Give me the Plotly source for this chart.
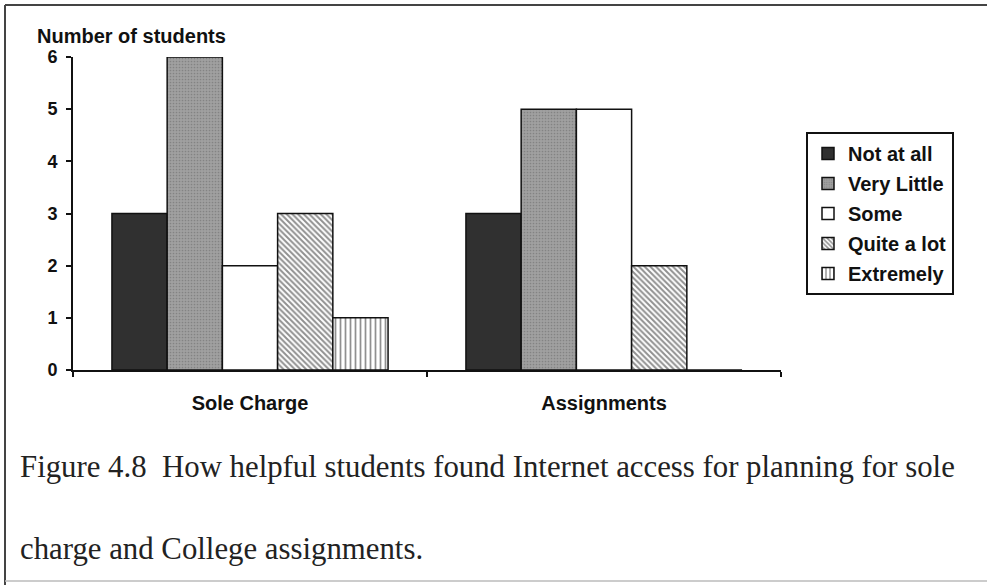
import plotly.graph_objects as go

categories = ["Sole Charge", "Assignments"]
series_names = ["Not at all", "Very Little", "Some", "Quite a lot", "Extremely"]
not_at_all = [3, 3]
very_little = [6, 5]
some = [2, 5]
quite_a_lot = [3, 2]
extremely = [1, 0]
y_ticks = [0, 1, 2, 3, 4, 5, 6]

values = [not_at_all, very_little, some, quite_a_lot, extremely]

W, H = 988, 585
L, R, T, B = 73, 781, 57, 370  # plot area in pixels
pw, ph = R - L, B - T

def px(x):
    return (x - L) / pw

def py(y):
    return (B - y) / ph

styles = [
    dict(color="#303030", pattern=dict(shape="")),
    dict(color="#999999", pattern=dict(shape=".", fgcolor="#666666", bgcolor="#a0a0a0", size=3, solidity=0.25)),
    dict(color="white", pattern=dict(shape="")),
    dict(color="white", pattern=dict(shape="\\", fgcolor="#222222", bgcolor="white", size=4, solidity=0.5)),
    dict(color="white", pattern=dict(shape="|", fgcolor="#222222", bgcolor="white", size=5, solidity=0.35)),
]

fig = go.Figure()
for i, (name, vals, st) in enumerate(zip(series_names, values, styles)):
    fig.add_trace(go.Bar(
        x=categories, y=vals, name=name,
        legendgroup=f"g{i}",
        marker=dict(color=st["color"], pattern=st["pattern"],
                    line=dict(color="#111111", width=1.5)),
    ))

fig.update_layout(
    width=W, height=H,
    margin=dict(l=L, r=W - R, t=T, b=H - B, pad=0),
    paper_bgcolor="white", plot_bgcolor="white",
    barmode="group", bargap=0.22, bargroupgap=0,
    font=dict(family="Liberation Sans, Arial", size=18, color="#111111"),
    showlegend=True,
    legend=dict(
        x=px(806), y=py(132), xanchor="left", yanchor="top",
        bordercolor="#111111", borderwidth=2,
        font=dict(family="Liberation Sans, Arial", size=20, color="#111111", weight="bold"),
        traceorder="grouped", tracegroupgap=1,
        itemwidth=30,
    ),
    xaxis=dict(
        range=[-0.5, 1.5], showline=True, linecolor="#111111", linewidth=2,
        ticks="outside", tickson="boundaries", ticklen=5, tickwidth=2, tickcolor="#111111",
        showgrid=False, zeroline=False,
        tickfont=dict(family="Liberation Sans, Arial", size=20, color="#111111", weight="bold"),
        ticklabelstandoff=14,
    ),
    yaxis=dict(
        range=[0, 6], tickvals=y_ticks, showline=True, linecolor="#111111", linewidth=2,
        ticks="outside", ticklen=5, tickwidth=2, tickcolor="#111111",
        showgrid=False, zeroline=False,
        tickfont=dict(family="Liberation Sans, Arial", size=18, color="#111111", weight="bold"),
        ticklabelstandoff=5,
    ),
    annotations=[
        dict(text="<b>Number of students</b>", xref="paper", yref="paper",
             x=px(35), y=py(36), xanchor="left", yanchor="middle", showarrow=False,
             font=dict(family="Liberation Sans, Arial", size=20, color="#111111")),
        dict(text="Figure 4.8  How helpful students found Internet access for planning for sole",
             xref="paper", yref="paper", x=px(18), y=py(467), xanchor="left", yanchor="middle",
             showarrow=False,
             font=dict(family="Liberation Serif, Times New Roman", size=30.8, color="#222222")),
        dict(text="charge and College assignments.",
             xref="paper", yref="paper", x=px(18), y=py(549), xanchor="left", yanchor="middle",
             showarrow=False,
             font=dict(family="Liberation Serif, Times New Roman", size=30.8, color="#222222")),
    ],
    shapes=[
        dict(type="line", xref="paper", yref="paper", x0=px(5), x1=px(987), y0=py(5), y1=py(5),
             line=dict(color="#444444", width=2)),
        dict(type="line", xref="paper", yref="paper", x0=px(5), x1=px(5), y0=py(5), y1=py(585),
             line=dict(color="#444444", width=2)),
        dict(type="line", xref="paper", yref="paper", x0=px(5), x1=px(987), y0=py(581), y1=py(581),
             line=dict(color="#bbbbbb", width=1.5)),
    ],
)

fig.write_html("out.html")
